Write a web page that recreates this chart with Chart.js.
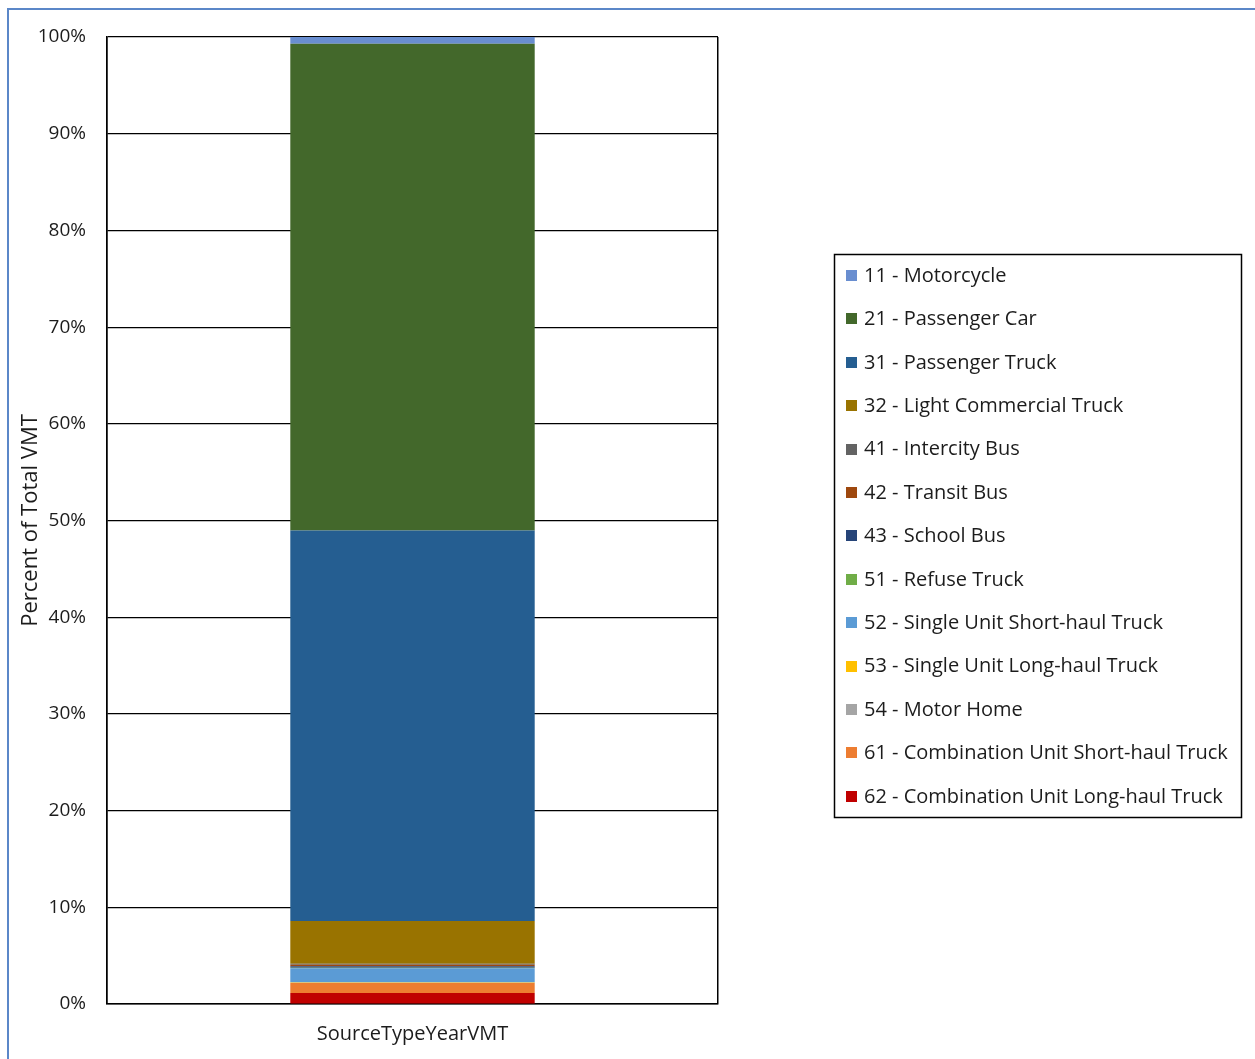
<!DOCTYPE html>
<html>
<head>
<meta charset="utf-8">
<script src="https://cdn.jsdelivr.net/npm/chart.js@4/dist/chart.umd.min.js"></script>
<style>
  html, body { margin: 0; padding: 0; background: #fff; }
  #wrap { position: relative; width: 1255px; height: 1059px; overflow: hidden; }
  #frame { position: absolute; left: 7px; top: 8px; width: 1260px; height: 1060px;
           border-top: 2px solid #5b87c8; border-left: 2px solid #5b87c8; box-sizing: border-box; }
  #c { position: absolute; left: 0; top: 0; }
</style>
</head>
<body>
<div id="wrap">
  <div id="frame"></div>
  <canvas id="c" width="1255" height="1059"></canvas>
</div>
<script>
// Share of total vehicle miles travelled by source type (percent)
const categories = ['SourceTypeYearVMT'];

// Source types, listed from the bottom of the stack to the top
const sourceTypes = [
  '62 - Combination Unit Long-haul Truck',
  '61 - Combination Unit Short-haul Truck',
  '54 - Motor Home',
  '53 - Single Unit Long-haul Truck',
  '52 - Single Unit Short-haul Truck',
  '51 - Refuse Truck',
  '43 - School Bus',
  '42 - Transit Bus',
  '41 - Intercity Bus',
  '32 - Light Commercial Truck',
  '31 - Passenger Truck',
  '21 - Passenger Car',
  '11 - Motorcycle'
];

const vmtShare = [1.14, 1.03, 0.03, 0.05, 1.45, 0.05, 0.15, 0.15, 0.10, 4.44, 40.37, 50.35, 0.69];

const seriesColors = [
  '#C00000', '#ED7D31', '#A5A5A5', '#FFC000', '#5B9BD5', '#70AD47',
  '#264478', '#9E480E', '#636363', '#997300', '#255E91', '#43682B', '#698ED0'
];

const yTicks = [0, 10, 20, 30, 40, 50, 60, 70, 80, 90, 100];

const FONT = '"Open Sans", Lato, sans-serif';
const TEXT = '#1c1c1c';

const datasets = sourceTypes.map((name, i) => ({
  label: name,
  data: [vmtShare[i]],
  backgroundColor: seriesColors[i],
  borderWidth: 0,
  barPercentage: 0.4,
  categoryPercentage: 1.0
}));

// Boxed legend on the right, top series first
const boxedLegend = {
  id: 'boxedLegend',
  afterDraw(chart) {
    const ctx = chart.ctx;
    const x0 = 834, y0 = 254, w = 407, h = 563;
    ctx.save();
    ctx.strokeStyle = '#000';
    ctx.lineWidth = 1.5;
    ctx.strokeRect(x0 + 0.5, y0 + 0.5, w, h);
    ctx.font = '20px ' + FONT;
    ctx.textBaseline = 'middle';
    ctx.textAlign = 'left';
    const n = chart.data.datasets.length;
    const step = 43.4;
    for (let k = 0; k < n; k++) {
      const ds = chart.data.datasets[n - 1 - k];
      const cy = 275 + k * step;
      ctx.fillStyle = ds.backgroundColor;
      ctx.fillRect(846, Math.round(cy - 5), 11, 11);
      ctx.fillStyle = TEXT;
      ctx.fillText(ds.label, 864, cy + 1);
    }
    ctx.restore();
  }
};

new Chart(document.getElementById('c'), {
  type: 'bar',
  data: { labels: categories, datasets },
  options: {
    responsive: false,
    animation: false,
    devicePixelRatio: 1,
    layout: { padding: { top: 37, right: 537, bottom: 0, left: 0 } },
    plugins: { legend: { display: false }, tooltip: { enabled: false } },
    scales: {
      x: {
        stacked: true,
        offset: true,
        grid: { display: true, color: '#000', lineWidth: 1.5, drawTicks: false, offset: true },
        border: { display: true, color: '#000', width: 1.5 },
        ticks: { color: TEXT, font: { family: FONT, size: 20 }, padding: 18 },
        afterFit(scale) { scale.height = 55; }
      },
      y: {
        stacked: true,
        min: 0,
        max: 100,
        afterBuildTicks(scale) { scale.ticks = yTicks.map(v => ({ value: v })); },
        grid: { color: '#000', lineWidth: 1.2, drawTicks: false },
        border: { display: true, color: '#000', width: 1.5 },
        ticks: {
          color: TEXT,
          font: { family: FONT, size: 19 },
          padding: 21,
          callback: v => v + '%'
        },
        title: {
          display: true,
          text: 'Percent of Total VMT',
          color: TEXT,
          font: { family: FONT, size: 22 },
          padding: { top: 18, bottom: 0 }
        },
        afterFit(scale) { scale.width = 107; }
      }
    }
  },
  plugins: [boxedLegend]
});
</script>
</body>
</html>
